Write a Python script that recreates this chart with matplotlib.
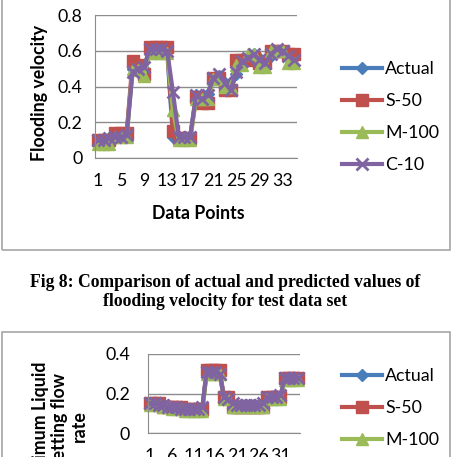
import matplotlib.pyplot as plt
from matplotlib.patches import Rectangle

W, H = 453, 457

# ---- data: flooding velocity (test set, 35 points)
points_top = list(range(1, 36))
actual_top = [0.10, 0.10, 0.11, 0.13, 0.13, 0.14, 0.50, 0.50, 0.50, 0.61,
              0.61, 0.61, 0.60, 0.12, 0.12, 0.12, 0.12, 0.35, 0.34, 0.36,
              0.44, 0.46, 0.42, 0.38, 0.47, 0.54, 0.55, 0.58, 0.56, 0.53,
              0.57, 0.60, 0.60, 0.57, 0.56]
s50_top = [0.10, 0.10, 0.10, 0.14, 0.14, 0.14, 0.54, 0.52, 0.47, 0.62,
           0.62, 0.62, 0.62, 0.15, 0.11, 0.11, 0.11, 0.34, 0.31, 0.31,
           0.45, 0.45, 0.38, 0.38, 0.55, 0.55, 0.55, 0.56, 0.53, 0.53,
           0.60, 0.60, 0.60, 0.58, 0.58]
m100_top = [0.08, 0.08, 0.08, 0.12, 0.12, 0.12, 0.50, 0.49, 0.46, 0.59,
            0.59, 0.59, 0.59, 0.27, 0.10, 0.10, 0.10, 0.33, 0.33, 0.33,
            0.44, 0.44, 0.40, 0.40, 0.52, 0.52, 0.58, 0.58, 0.51, 0.51,
            0.60, 0.60, 0.60, 0.53, 0.53]
c10_top = [0.10, 0.10, 0.11, 0.12, 0.12, 0.13, 0.48, 0.50, 0.51, 0.61,
           0.61, 0.61, 0.60, 0.37, 0.12, 0.12, 0.12, 0.35, 0.33, 0.35,
           0.45, 0.47, 0.42, 0.38, 0.48, 0.54, 0.56, 0.58, 0.55, 0.53,
           0.58, 0.61, 0.60, 0.57, 0.55]
xticks_top = [1, 5, 9, 13, 17, 21, 25, 29, 33]
yticks_top = [0, 0.2, 0.4, 0.6, 0.8]

# ---- data: minimum liquid wetting flow rate (35 points)
points_bot = list(range(1, 36))
actual_bot = [0.15, 0.15, 0.15, 0.14, 0.14, 0.13, 0.13, 0.13, 0.12, 0.12,
              0.12, 0.12, 0.12, 0.31, 0.31, 0.31, 0.31, 0.18, 0.18, 0.14,
              0.14, 0.14, 0.14, 0.14, 0.14, 0.14, 0.14, 0.18, 0.18, 0.18,
              0.18, 0.28, 0.28, 0.28, 0.28]
s50_bot = [0.15, 0.15, 0.15, 0.13, 0.13, 0.13, 0.13, 0.13, 0.12, 0.12,
           0.12, 0.12, 0.12, 0.32, 0.32, 0.32, 0.32, 0.18, 0.18, 0.13,
           0.13, 0.13, 0.13, 0.13, 0.13, 0.13, 0.13, 0.18, 0.18, 0.18,
           0.18, 0.28, 0.28, 0.28, 0.28]
m100_bot = [0.14, 0.14, 0.14, 0.13, 0.13, 0.12, 0.12, 0.12, 0.11, 0.11,
            0.11, 0.11, 0.11, 0.30, 0.30, 0.30, 0.30, 0.17, 0.17, 0.13,
            0.13, 0.13, 0.13, 0.13, 0.13, 0.13, 0.13, 0.17, 0.17, 0.17,
            0.17, 0.27, 0.27, 0.27, 0.27]
c10_bot = [0.15, 0.15, 0.14, 0.14, 0.13, 0.13, 0.13, 0.12, 0.12, 0.12,
           0.12, 0.12, 0.13, 0.31, 0.31, 0.31, 0.30, 0.18, 0.17, 0.15,
           0.14, 0.14, 0.14, 0.14, 0.14, 0.14, 0.15, 0.18, 0.18, 0.18,
           0.19, 0.28, 0.28, 0.28, 0.28]
xticks_bot = [1, 6, 11, 16, 21, 26, 31]
yticks_bot = [0, 0.2, 0.4]

LABELS = ["Actual", "S-50", "M-100", "C-10"]
COLORS = ["#4A7EBB", "#C0504D", "#9BBB59", "#8064A2"]
MARKERS = ["D", "s", "^", "x"]
MSIZES = [6, 9, 9, 8]
CAPTION = ("Fig 8: Comparison of actual and predicted values of\n"
           "flooding velocity for test data set")

FS = 12.8
FONT = ["Lato", "DejaVu Sans"]
plt.rcParams["font.family"] = FONT
plt.rcParams["font.size"] = FS


def px_rect(left, top, right, bottom):
    return [left / W, 1 - bottom / H, (right - left) / W, (bottom - top) / H]


def draw_chart(ax, x, series, xticks, yticks, ymax, ypad):
    for y, lab, col, mk, ms in zip(series, LABELS, COLORS, MARKERS, MSIZES):
        ax.plot(x, y, color=col, lw=3, marker=mk, ms=ms, mfc=col, mec=col,
                mew=2 if mk == "x" else 1, label=lab, clip_on=False)
    ax.set_xlim(0.5, len(x) + 0.5)
    ax.set_ylim(0, ymax)
    ax.set_xticks(xticks)
    ax.set_yticks(yticks)
    ax.set_yticklabels(["0" if v == 0 else "%g" % v for v in yticks])
    ax.grid(axis="y", color="#8c8c8c", lw=1)
    ax.set_axisbelow(True)
    for s in ["top", "right"]:
        ax.spines[s].set_visible(False)
    for s in ["left", "bottom"]:
        ax.spines[s].set_color("#8c8c8c")
    ax.tick_params(length=0, labelsize=FS)
    ax.tick_params(axis="x", pad=11)
    ax.tick_params(axis="y", pad=ypad)


def add_legend(ax, top_px):
    ax.legend(loc="upper left", bbox_to_anchor=(326 / W, 1 - top_px / H),
              bbox_transform=fig.transFigure, frameon=False,
              handlelength=2.25, handletextpad=0.17, labelspacing=0.9,
              fontsize=FS)


fig = plt.figure(figsize=(W / 100, H / 100), dpi=100)

# panel frames
fig.patches.append(Rectangle((2 / W, 1 - 250 / H), 448 / W, 260 / H,
                             transform=fig.transFigure, fill=False,
                             ec="#a6a6a6", lw=1.2))
fig.patches.append(Rectangle((2 / W, -0.05), 448 / W, (H - 332) / H + 0.05,
                             transform=fig.transFigure, fill=False,
                             ec="#a6a6a6", lw=1.2))

# top chart
ax1 = fig.add_axes(px_rect(95, 15, 297, 158))
draw_chart(ax1, points_top, [actual_top, s50_top, m100_top, c10_top],
           xticks_top, yticks_top, 0.8, 9)
fig.text(40 / W, 1 - 93 / H, "Flooding velocity", rotation=90, ha="center",
         va="center", fontsize=FS, fontweight="bold")
fig.text(198 / W, 1 - 213 / H, "Data Points", ha="center", va="center",
         fontsize=FS, fontweight="bold")
add_legend(ax1, 45)

# caption
fig.text(225 / W, 1 - 292 / H, CAPTION, ha="center", va="center",
         family="Liberation Serif", fontweight="bold", fontsize=12.7,
         linespacing=1.2)

# bottom chart
ax2 = fig.add_axes(px_rect(148, 354, 300, 433))
draw_chart(ax2, points_bot, [actual_bot, s50_bot, m100_bot, c10_bot],
           xticks_bot, yticks_bot, 0.4, 13)
fig.text(60 / W, 1 - 426 / H, "Minimum Liquid\nWetting flow\nrate",
         rotation=90, ha="center", va="center", fontsize=FS,
         fontweight="bold", linespacing=1.2, multialignment="center")
add_legend(ax2, 352)

fig.savefig("out.png", dpi=100)
